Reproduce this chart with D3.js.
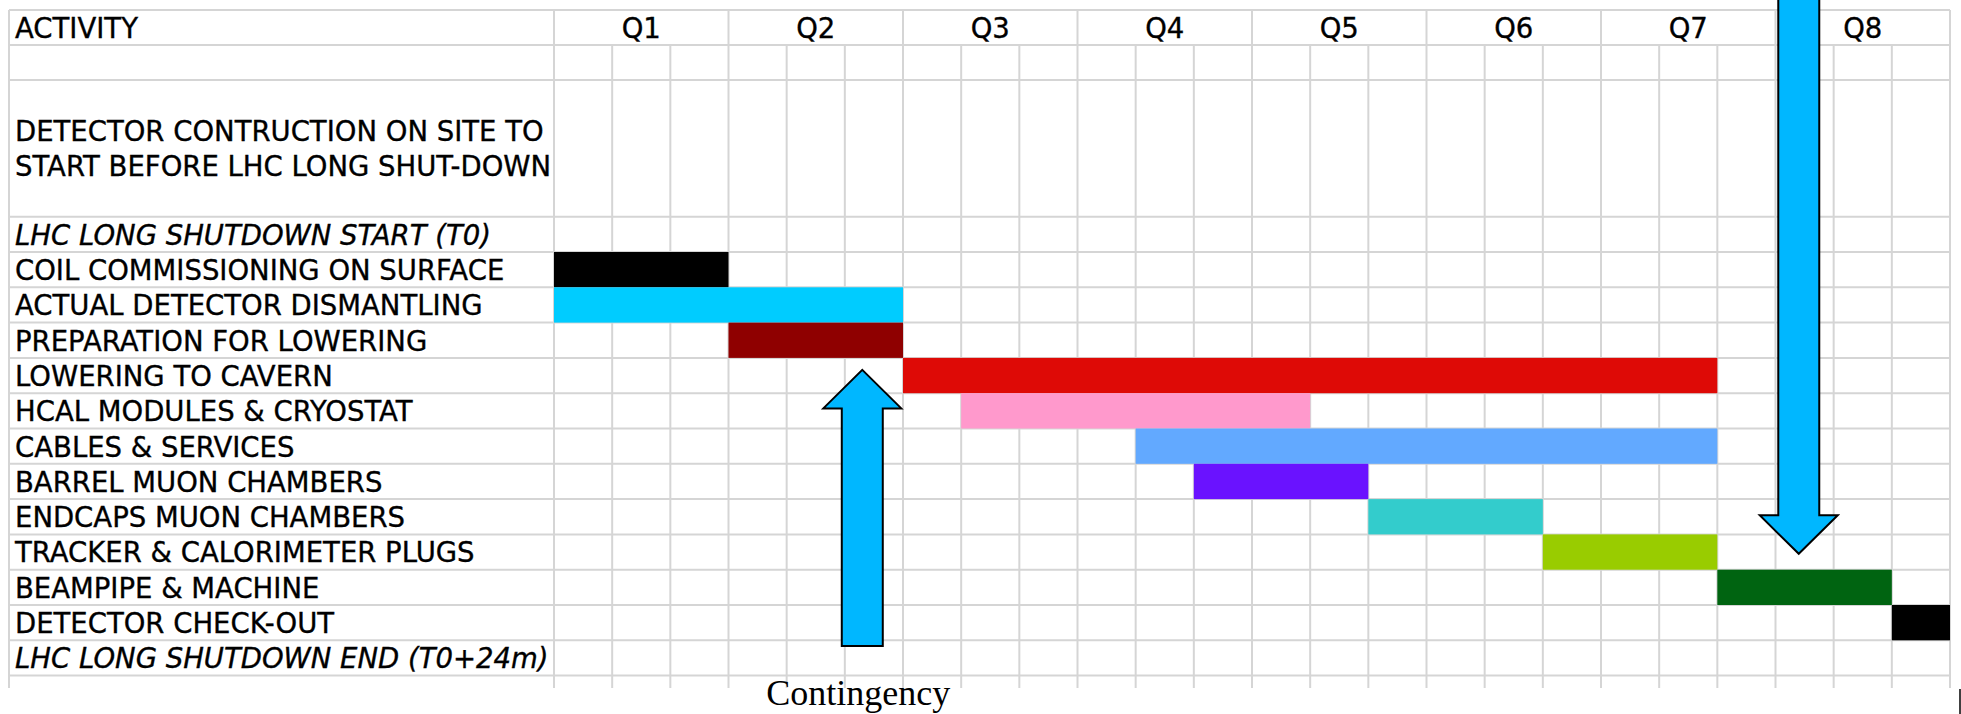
<!DOCTYPE html>
<html>
<head>
<meta charset="utf-8">
<script src="https://cdn.jsdelivr.net/npm/d3@7/dist/d3.min.js"></script>
<style>
  html, body { margin: 0; padding: 0; background: #ffffff; }
  svg { display: block; }
  .lbl { font-family: "DejaVu Sans", Verdana, sans-serif; font-size: 27.5px; fill: #000; stroke: #000; stroke-width: 0.35px; }
  .it { font-style: italic; }
  .note { font-family: "Liberation Serif", "Times New Roman", serif; font-size: 36px; fill: #000; }
</style>
</head>
<body>
<svg id="chart" width="1961" height="714"></svg>
<script>
// ---- schedule data ----
const quarters = ["Q1", "Q2", "Q3", "Q4", "Q5", "Q6", "Q7", "Q8"];
const monthsPerQuarter = 3;
const headerLabel = "ACTIVITY";
const introLines = ["DETECTOR CONTRUCTION ON SITE TO", "START BEFORE LHC LONG SHUT-DOWN"];

const activities = [
  "LHC LONG SHUTDOWN START (T0)",
  "COIL COMMISSIONING ON SURFACE",
  "ACTUAL DETECTOR DISMANTLING",
  "PREPARATION FOR LOWERING",
  "LOWERING TO CAVERN",
  "HCAL MODULES & CRYOSTAT",
  "CABLES & SERVICES",
  "BARREL MUON CHAMBERS",
  "ENDCAPS MUON CHAMBERS",
  "TRACKER & CALORIMETER PLUGS",
  "BEAMPIPE & MACHINE",
  "DETECTOR CHECK-OUT",
  "LHC LONG SHUTDOWN END (T0+24m)"
];
const milestoneRows = ["LHC LONG SHUTDOWN START (T0)", "LHC LONG SHUTDOWN END (T0+24m)"];

// start / end month of each task (months from T0)
const startMonth = [null, 0, 0, 3, 6, 7, 10, 11, 14, 17, 20, 23, null];
const endMonth   = [null, 3, 6, 6, 20, 13, 20, 14, 17, 20, 23, 24, null];
const barColors  = [null, "#000000", "#00ccff", "#8f0000", "#de0a06", "#ff99cc",
                    "#62a9ff", "#6a12ff", "#33cccc", "#99cc00", "#006411", "#000000", null];

// contingency arrows: month of the tip, tip row position and tail row position (in row units)
const arrowMonth = [5.30, 21.40];
const arrowTipRow = [4.34, 9.55];
const arrowTailRow = [12.16, -8];
const arrowNote = "Contingency";

// ---- layout ----
const svg = d3.select("#chart");
const tableLeft = 9, labelRight = 554, tableRight = 1950;
const topY = 10, headerBottom = 45, blankBottom = 80, introBottom = 216.7;
const rowH = 35.3;
const gridBottom = 688;
const totalMonths = quarters.length * monthsPerQuarter;

const x = d3.scaleLinear().domain([0, totalMonths]).range([labelRight, tableRight]);
const y = d3.scaleBand().domain(activities)
  .range([introBottom, introBottom + activities.length * rowH]).padding(0);
const yRow = d3.scaleLinear().domain([0, activities.length])
  .range([introBottom, introBottom + activities.length * rowH]);

const gridColor = "#d5d5d5";
const grid = svg.append("g").attr("stroke", gridColor).attr("stroke-width", 2);

// horizontal rules
const hLines = [topY, headerBottom, blankBottom, introBottom]
  .concat(activities.map(a => y(a) + y.bandwidth()));
grid.selectAll("line.h").data(hLines).join("line")
  .attr("x1", tableLeft).attr("x2", tableRight)
  .attr("y1", d => d).attr("y2", d => d);

// vertical rules: borders, quarter boundaries across the header, month boundaries below
grid.selectAll("line.b").data([tableLeft, labelRight, tableRight]).join("line")
  .attr("x1", d => d).attr("x2", d => d).attr("y1", topY).attr("y2", gridBottom);
const monthTicks = d3.range(1, totalMonths);
grid.selectAll("line.m").data(monthTicks).join("line")
  .attr("x1", d => x(d)).attr("x2", d => x(d))
  .attr("y1", d => d % monthsPerQuarter === 0 ? topY : headerBottom)
  .attr("y2", gridBottom);

// header text
svg.append("text").attr("class", "lbl").attr("x", 15).attr("y", topY + 27.5).text(headerLabel);
svg.selectAll("text.q").data(quarters).join("text")
  .attr("class", "lbl").attr("text-anchor", "middle")
  .attr("x", (d, i) => x((i + 0.5) * monthsPerQuarter))
  .attr("y", topY + 27.5).text(d => d);

// intro paragraph
svg.selectAll("text.intro").data(introLines).join("text")
  .attr("class", "lbl").attr("x", 15)
  .attr("y", (d, i) => 141 + i * 35).text(d => d);

// activity labels
svg.selectAll("text.act").data(activities).join("text")
  .attr("class", d => milestoneRows.includes(d) ? "lbl it" : "lbl")
  .attr("x", 15).attr("y", d => y(d) + 28).text(d => d);

// task bars
const tasks = activities.map((a, i) => ({ name: a, s: startMonth[i], e: endMonth[i], c: barColors[i] }))
  .filter(t => t.s !== null);
svg.append("g").selectAll("rect").data(tasks).join("rect")
  .attr("x", d => x(d.s)).attr("width", d => x(d.e) - x(d.s))
  .attr("y", d => y(d.name)).attr("height", y.bandwidth())
  .attr("fill", d => d.c);

// block arrows
const shaftHalf = 20.5, headHalf = 39, headLen = 38.5;
function arrowPath(m, tipRow, tailRow) {
  const tx = x(m), ty = yRow(tipRow), tail = yRow(tailRow);
  const dir = tail > ty ? 1 : -1;
  const hb = ty + dir * headLen;
  return [[tx, ty], [tx + headHalf, hb], [tx + shaftHalf, hb], [tx + shaftHalf, tail],
          [tx - shaftHalf, tail], [tx - shaftHalf, hb], [tx - headHalf, hb]];
}
svg.append("g").selectAll("polygon").data(arrowMonth).join("polygon")
  .attr("points", (d, i) => arrowPath(d, arrowTipRow[i], arrowTailRow[i]).map(p => p.join(",")).join(" "))
  .attr("fill", "#00b7ff").attr("stroke", "#000").attr("stroke-width", 2)
  .attr("stroke-linejoin", "miter");

// note under the first arrow
svg.append("text").attr("class", "note").attr("text-anchor", "middle")
  .attr("x", x(arrowMonth[0]) - 4).attr("y", 705).text(arrowNote);

// small edge mark at the lower right
svg.append("line").attr("x1", 1960).attr("x2", 1960).attr("y1", 689).attr("y2", 714)
  .attr("stroke", "#000").attr("stroke-width", 1.5);
</script>
</body>
</html>
